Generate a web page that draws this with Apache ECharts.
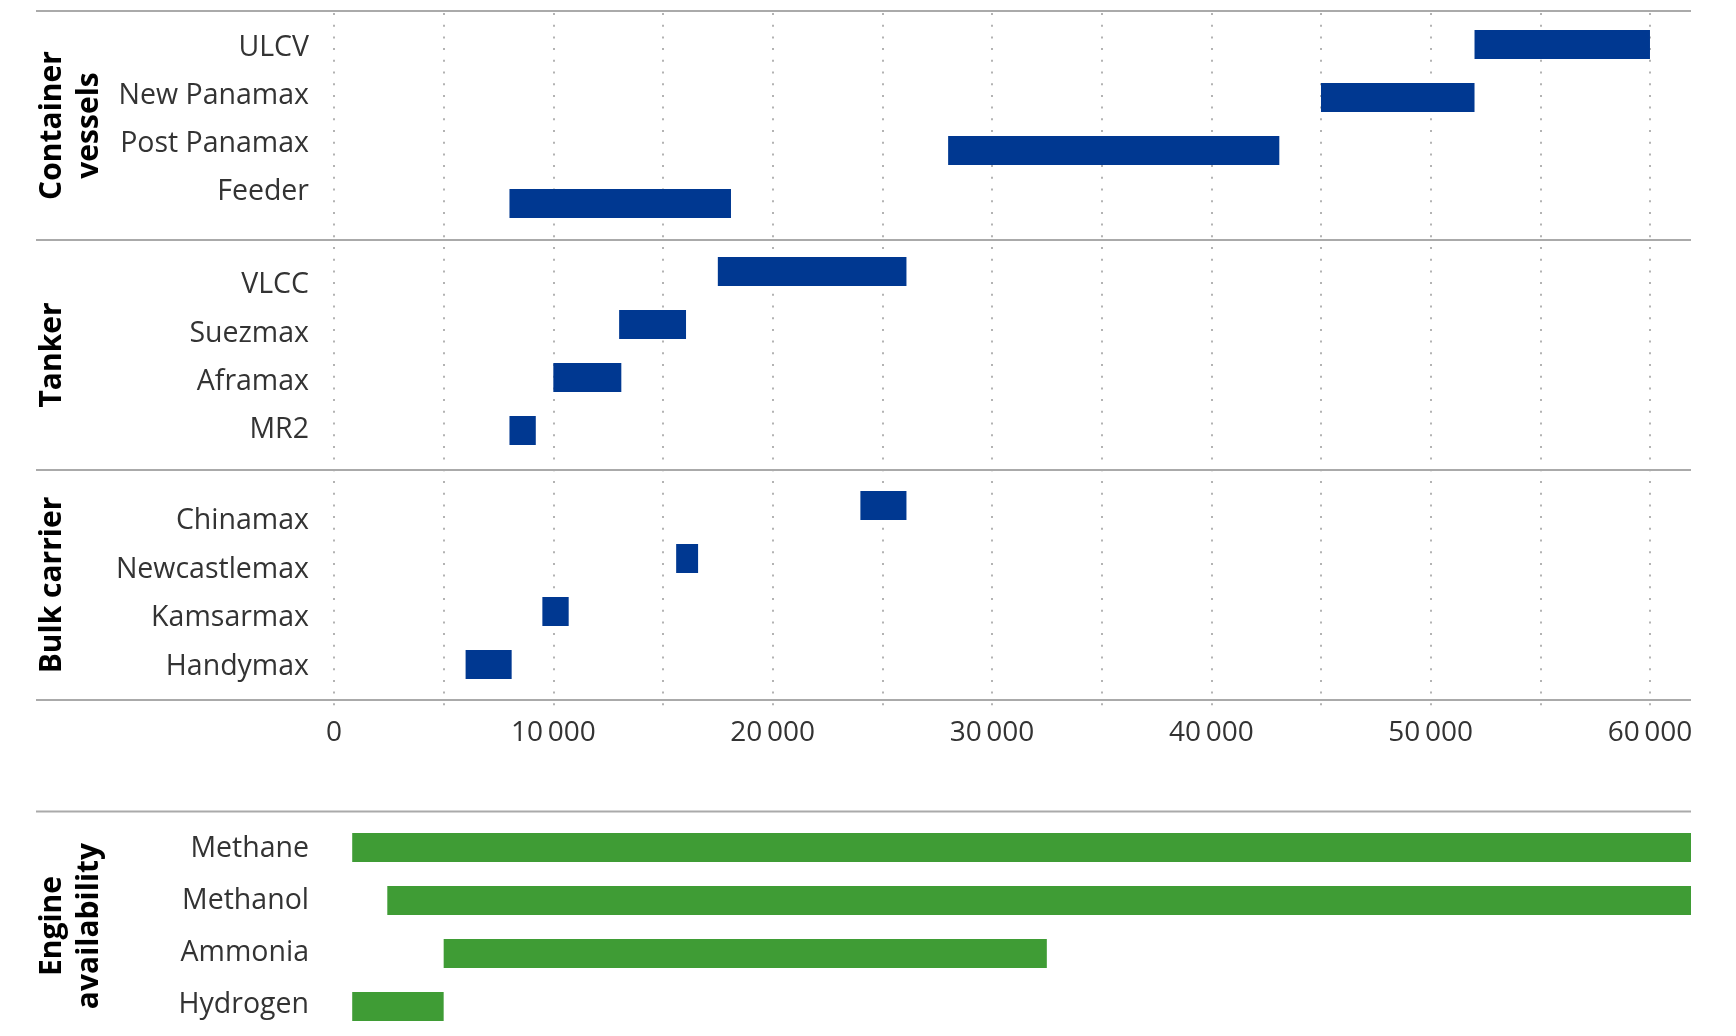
<!DOCTYPE html>
<html><head><meta charset="utf-8">
<script src="https://cdn.jsdelivr.net/npm/echarts@6/dist/echarts.min.js"></script>
<style>html,body{margin:0;padding:0;background:#fff}#c{width:1736px;height:1036px}</style>
</head><body><div id="c"></div>
<script>
// ---- data ----
const containerCats = ['ULCV', 'New Panamax', 'Post Panamax', 'Feeder'];
const containerStart = [52000, 45000, 28000, 8000];
const containerEnd = [60000, 52000, 43100, 18100];

const tankerCats = ['VLCC', 'Suezmax', 'Aframax', 'MR2'];
const tankerStart = [17500, 13000, 10000, 8000];
const tankerEnd = [26100, 16050, 13100, 9200];

const bulkCats = ['Chinamax', 'Newcastlemax', 'Kamsarmax', 'Handymax'];
const bulkStart = [24000, 15600, 9500, 6000];
const bulkEnd = [26100, 16600, 10700, 8100];

const engineCats = ['Methane', 'Methanol', 'Ammonia', 'Hydrogen'];
const engineStart = [830, 2430, 5000, 830];
const engineEnd = [62000, 62000, 32500, 5000];

const xTickLabels = [0, 10000, 20000, 30000, 40000, 50000, 60000];
const sectionTitles = ['Container\nvessels', 'Tanker', 'Bulk carrier', 'Engine\navailability'];

// ---- layout / style ----
const BLUE = '#003891', GREEN = '#3f9c35';
const FONT = '"Open Sans", "Noto Sans", sans-serif';
const LEFT = 334, RIGHT_FULL = 45, RIGHT_TICKS = 86;
const FULL_MAX = 61870;
const sections = [
  {cats: containerCats, s: containerStart, e: containerEnd, top: 18, color: BLUE, labelTop: 24, labelH: 192},
  {cats: tankerCats, s: tankerStart, e: tankerEnd, top: 245, color: BLUE, labelTop: 261, labelH: 193},
  {cats: bulkCats, s: bulkStart, e: bulkEnd, top: 479, color: BLUE, labelTop: 497, labelH: 194},
  {cats: engineCats, s: engineStart, e: engineEnd, top: 821, color: GREEN, labelTop: 823, labelH: 208}
];
const titleCenters = [125.5, 355, 585, 926];
const sepYs = [11, 240, 470, 700, 811.5];
const labelStyle = {fontSize: 28.5, color: '#333', fontFamily: FONT};

const grid = [], xAxis = [], yAxis = [], series = [];
// background grid: dotted gridlines + tick labels
grid.push({left: LEFT, right: RIGHT_TICKS, top: 13, bottom: 329});
xAxis.push({
  gridIndex: 0, type: 'value', min: 0, max: 60000, interval: 5000, position: 'bottom',
  axisLine: {show: false}, axisTick: {show: false},
  splitLine: {show: true, lineStyle: {color: '#b3b3b3', width: 2, type: [2, 9.7]}},
  axisLabel: {
    margin: 12, fontSize: 28, color: '#333', fontFamily: FONT,
    formatter: v => xTickLabels.includes(v) ? v.toLocaleString('en-US').replace(/,/g, '\u2009') : ''
  }
});
yAxis.push({gridIndex: 0, type: 'value', show: false, min: 0, max: 1, splitLine: {show: false}});

sections.forEach(sec => {
  const gi = grid.length;
  grid.push({left: LEFT, right: RIGHT_FULL, top: sec.top, height: 212});
  xAxis.push({gridIndex: gi, type: 'value', min: 0, max: FULL_MAX, show: false, splitLine: {show: false}});
  yAxis.push({
    gridIndex: gi, type: 'category', data: sec.cats, inverse: true,
    axisLine: {show: false}, axisTick: {show: false}, splitLine: {show: false},
    axisLabel: {show: false}
  });
  series.push({
    type: 'bar', xAxisIndex: gi, yAxisIndex: gi, stack: 's' + gi, silent: true,
    barWidth: 29, itemStyle: {color: 'transparent'}, data: sec.s
  });
  series.push({
    type: 'bar', xAxisIndex: gi, yAxisIndex: gi, stack: 's' + gi, clip: true,
    barWidth: 29, itemStyle: {color: sec.color}, data: sec.e.map((v, k) => v - sec.s[k])
  });
});
// label-only grids (category labels sit on their own spacing)
sections.forEach(sec => {
  const gi = grid.length;
  grid.push({left: LEFT, right: RIGHT_FULL, top: sec.labelTop, height: sec.labelH});
  xAxis.push({gridIndex: gi, type: 'value', min: 0, max: FULL_MAX, show: false, splitLine: {show: false}});
  yAxis.push({
    gridIndex: gi, type: 'category', data: sec.cats, inverse: true,
    axisLine: {show: false}, axisTick: {show: false}, splitLine: {show: false},
    axisLabel: Object.assign({margin: 25}, labelStyle)
  });
});

const graphic = [];
sepYs.forEach(y => graphic.push({
  type: 'line', silent: true, z: 10,
  shape: {x1: 36, y1: y, x2: 1691, y2: y},
  style: {stroke: '#aaaaaa', lineWidth: 2}
}));
sectionTitles.forEach((t, i) => graphic.push({
  type: 'text', x: 34, y: titleCenters[i], rotation: Math.PI / 2,
  style: {text: t, font: 'bold 30px ' + FONT, fill: '#000', align: 'center', verticalAlign: 'top', lineHeight: 37}
}));

const chart = echarts.init(document.getElementById('c'), null, {renderer: 'canvas'});
chart.setOption({animation: false, backgroundColor: '#fff', grid, xAxis, yAxis, series, graphic});
</script></body></html>
